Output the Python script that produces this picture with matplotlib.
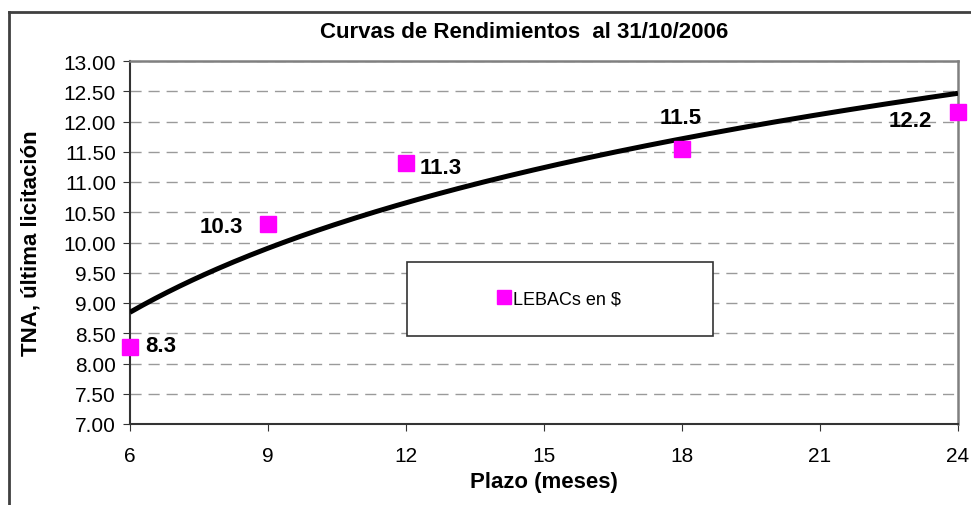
import numpy as np
import matplotlib
matplotlib.use("Agg")
import matplotlib.pyplot as plt
from matplotlib.lines import Line2D
from matplotlib.patches import Rectangle

plazo = [6, 9, 12, 18, 24]
tna = [8.27, 10.31, 11.31, 11.54, 12.16]
labels = ["8.3", "10.3", "11.3", "11.5", "12.2"]
xticks = [6, 9, 12, 15, 18, 21, 24]
yticks = np.arange(7.0, 13.01, 0.5)

plt.rcParams['font.family'] = ['Liberation Sans', 'DejaVu Sans']

fig = plt.figure(figsize=(9.71, 5.06), dpi=100)
ax = fig.add_axes([130/971, (506-425)/506, (958-130)/971, (425-62)/506])

# logarithmic trend line fitted to the data
b, a = np.polyfit(np.log(plazo), tna, 1)
xs = np.linspace(6, 24, 200)
ax.plot(xs, a + b*np.log(xs), color='black', lw=3.6, zorder=3, solid_capstyle='butt')

ax.plot(plazo, tna, linestyle='none', marker='s', ms=12, color='#FF00FF',
        mec='#FF00FF', zorder=4, clip_on=False, label='LEBACs en $')

offsets = [(11, 1, 'left', 'center'), (-18, -2, 'right', 'center'),
           (10, -3, 'left', 'center'), (-1, 23, 'center', 'center'),
           (-19, -6, 'right', 'center')]
for x, y, lab, (dx, dy, ha, va) in zip(plazo, tna, labels, offsets):
    ax.annotate(lab, (x, y), xytext=(dx, dy), textcoords='offset points',
                ha=ha, va=va, fontsize=16, fontweight='bold', zorder=5)

ax.set_xlim(6, 24)
ax.set_ylim(7, 13)
ax.set_xticks(xticks)
ax.set_yticks(yticks)
ax.set_yticklabels([f"{v:.2f}" for v in yticks])
ax.tick_params(axis='both', labelsize=15, direction='out', length=5, color='#333333')
ax.tick_params(axis='x', pad=11)
ax.tick_params(axis='y', pad=5)
ax.yaxis.grid(True, linestyle=(0, (8, 5)), color='#9a9a9a', lw=1)
ax.set_axisbelow(True)
for s in ['top', 'right']:
    ax.spines[s].set_color('#808080')
    ax.spines[s].set_linewidth(1.8)
for s in ['left', 'bottom']:
    ax.spines[s].set_color('#333333')
    ax.spines[s].set_linewidth(1.5)

ax.set_xlabel('Plazo (meses)', fontsize=16, fontweight='bold', labelpad=4)
ax.set_ylabel('TNA, última licitación', fontsize=16, fontweight='bold', labelpad=16)
fig.text(524/971, 1 - 33/506, 'Curvas de Rendimientos  al 31/10/2006',
         ha='center', va='center', fontsize=16, fontweight='bold')

# legend box (drawn as a rectangle) with frameless legend inside
lx0, lx1, ly0, ly1 = 407, 713, 263, 337
fig.add_artist(Rectangle((lx0/971, 1-ly1/506), (lx1-lx0)/971, (ly1-ly0)/506,
                         transform=fig.transFigure, facecolor='white',
                         edgecolor='#333333', lw=1.2, zorder=5))
leg = ax.legend(loc='center', bbox_to_anchor=(560/971, 1-(ly0+ly1)/2/506),
                bbox_transform=fig.transFigure, fontsize=13, frameon=False,
                handlelength=0.6, handletextpad=0.2, borderpad=0,
                borderaxespad=0, markerscale=0.8)
leg.set_zorder(6)
fig.add_artist(leg)

# outer chart border
fig.add_artist(Line2D([9/971, 1.0], [1-13/506, 1-13/506], transform=fig.transFigure,
                      color='#404040', lw=2))
fig.add_artist(Line2D([9/971, 9/971], [0, 1-13/506], transform=fig.transFigure,
                      color='#404040', lw=2))

fig.savefig('out.png', dpi=100)
